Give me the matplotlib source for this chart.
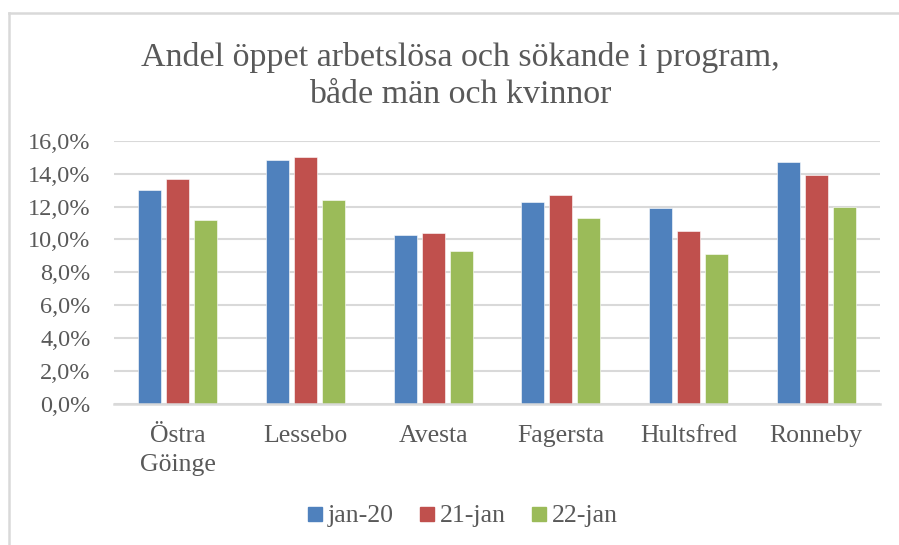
"""
plot.py - Andel öppet arbetslösa och sökande i program (grouped bars).
"""

import matplotlib

matplotlib.use("Agg")
import matplotlib.pyplot as plt
import numpy as np
from matplotlib.lines import Line2D

# === DATA ===

kommuner = ["Östra\nGöinge", "Lessebo", "Avesta", "Fagersta", "Hultsfred", "Ronneby"]
serier = ["jan-20", "21-jan", "22-jan"]

jan_20 = [13.0, 14.8, 10.3, 12.3, 11.9, 14.7]
jan_21 = [13.7, 15.0, 10.4, 12.7, 10.5, 13.9]
jan_22 = [11.2, 12.4, 9.3, 11.3, 9.1, 12.0]

y_ticks = [0, 2, 4, 6, 8, 10, 12, 14, 16]

# === STYLE ===

FONT = ["Liberation Serif", "DejaVu Serif"]
TEXT_COLOR = "#595959"
GRID_COLOR = "#D9D9D9"
COLORS = ["#4F81BD", "#C0504D", "#9BBB59"]

plt.rcParams["font.family"] = FONT

fig = plt.figure(figsize=(8.99, 5.45), dpi=100)
W, H = 899, 545
ax = fig.add_axes([114 / W, (H - 404) / H, (880 - 114) / W, (404 - 140.7) / H])

x = np.arange(len(kommuner))
bar_w = 0.18
offset = 0.22
for i, (vals, name) in enumerate(zip([jan_20, jan_21, jan_22], serier)):
    ax.bar(
        x + (i - 1) * offset,
        vals,
        width=bar_w,
        color=COLORS[i],
        label=name,
        zorder=3,
        edgecolor="white",
        linewidth=0.4,
    )

ax.set_xlim(-0.5, len(kommuner) - 0.5)
ax.set_ylim(0, 16)
ax.set_yticks(y_ticks)
ax.set_yticklabels([f"{t:.1f}%".replace(".", ",") for t in y_ticks])
ax.set_xticks(x)
ax.set_xticklabels(kommuner, linespacing=1.45)

ax.grid(axis="y", color=GRID_COLOR, linewidth=1.5, zorder=0)
for side in ["top", "right", "left"]:
    ax.spines[side].set_visible(False)
ax.spines["bottom"].set_color(GRID_COLOR)
ax.spines["bottom"].set_linewidth(1.8)
ax.spines["bottom"].set_zorder(4)

ax.tick_params(axis="y", length=0, pad=17, labelsize=17.5, labelcolor=TEXT_COLOR)
ax.tick_params(axis="x", length=0, pad=15, labelsize=18.5, labelcolor=TEXT_COLOR)

fig.text(
    0.512,
    1 - 76 / H,
    "Andel öppet arbetslösa och sökande i program,\nbåde män och kvinnor",
    ha="center",
    va="center",
    fontsize=24.5,
    color=TEXT_COLOR,
    linespacing=1.25,
)

handles = [
    Line2D([], [], marker="s", linestyle="none", markersize=10, color=c)
    for c in COLORS
]
fig.legend(
    handles,
    serier,
    loc="center",
    bbox_to_anchor=(0.513, 1 - 516 / H),
    ncol=3,
    frameon=False,
    fontsize=18.5,
    labelcolor=TEXT_COLOR,
    handletextpad=0.1,
    columnspacing=0.9,
    handlelength=0.8,
)

# chart border (only top and left edges visible in the crop)
fig.add_artist(
    Line2D([8.5 / W, 8.5 / W], [0, 1 - 13 / H], color=GRID_COLOR, linewidth=1.8,
           transform=fig.transFigure)
)
fig.add_artist(
    Line2D([8.5 / W, 1], [1 - 13 / H, 1 - 13 / H], color=GRID_COLOR, linewidth=1.8,
           transform=fig.transFigure)
)

fig.savefig("out.png", dpi=100)
